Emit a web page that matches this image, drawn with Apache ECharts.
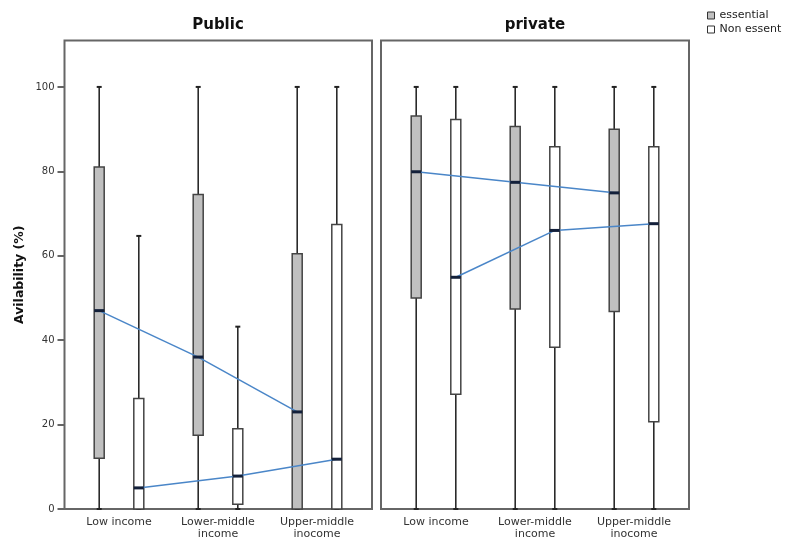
<!DOCTYPE html>
<html>
<head>
<meta charset="utf-8">
<style>
  html, body { margin: 0; padding: 0; background: #fff; }
  #chart { width: 786px; height: 540px; }
</style>
<script src="https://cdn.jsdelivr.net/npm/echarts@6/dist/echarts.min.js"></script>
</head>
<body>
<div id="chart"></div>
<script>
const categories = ['Low income', 'Lower-middle\nincome', 'Upper-middle\ninocome']
const panels = ['Public', 'private']
const groups = ['essential', 'Non essent']
const yTicks = [0, 20, 40, 60, 80, 100]

// [min, Q1, median, Q3, max] for each income group
const publicEssential = [[0, 12, 47, 81, 100], [0, 17.5, 36, 74.5, 100], [0, 0, 23, 60.5, 100]]
const publicNonEssential = [[0, 0, 5, 26.2, 64.7], [0, 1.1, 7.8, 19, 43.2], [0, 0, 11.8, 67.4, 100]]
const privateEssential = [[0, 50, 79.9, 93.1, 100], [0, 47.4, 77.4, 90.6, 100], [0, 46.8, 74.9, 90, 100]]
const privateNonEssential = [[0, 27.2, 54.9, 92.3, 100], [0, 38.3, 66, 85.8, 100], [0, 20.7, 67.6, 85.8, 100]]

const panelData = [
  [publicEssential, publicNonEssential],
  [privateEssential, privateNonEssential]
]

const FONT = 'DejaVu Sans'
const boxFill = ['#c0c0c0', '#ffffff']
const shifts = [-0.2, 0.2]

function boxRenderer(shift) {
  return function (params, api) {
    const cat = api.value(0)
    const dx = api.size([1, 0])[0] * shift
    const pMin = api.coord([cat, api.value(1)])
    const pQ1 = api.coord([cat, api.value(2)])
    const pQ3 = api.coord([cat, api.value(4)])
    const pMax = api.coord([cat, api.value(5)])
    const x = pMax[0] + dx
    const whisker = { stroke: '#2a2a2a', lineWidth: 1.6 }
    const cap = { stroke: '#222', lineWidth: 2 }
    return {
      type: 'group',
      children: [
        { type: 'line', shape: { x1: x, y1: pMax[1], x2: x, y2: pQ3[1] }, style: whisker },
        { type: 'line', shape: { x1: x, y1: pQ1[1], x2: x, y2: pMin[1] }, style: whisker },
        { type: 'line', shape: { x1: x - 2.5, y1: pMax[1], x2: x + 2.5, y2: pMax[1] }, style: cap },
        { type: 'line', shape: { x1: x - 2.5, y1: pMin[1], x2: x + 2.5, y2: pMin[1] }, style: cap },
        {
          type: 'rect',
          shape: { x: x - 5, y: pQ3[1], width: 10, height: pQ1[1] - pQ3[1] },
          style: { fill: api.visual('color'), stroke: '#444', lineWidth: 1.5 }
        }
      ]
    }
  }
}

function trendRenderer(shift) {
  return function (params, api) {
    const cat = api.value(0)
    const dx = api.size([1, 0])[0] * shift
    const p = api.coord([cat, api.value(1)])
    const children = [{
      type: 'rect',
      z2: 2,
      shape: { x: p[0] + dx - 5, y: p[1] - 1.5, width: 10, height: 3 },
      style: { fill: '#13203a' }
    }]
    if (cat < categories.length - 1) {
      const q = api.coord([cat + 1, api.value(2)])
      children.push({
        type: 'line',
        z2: 1,
        shape: { x1: p[0] + dx, y1: p[1], x2: q[0] + dx, y2: q[1] },
        style: { stroke: '#4a86c8', lineWidth: 1.5 }
      })
    }
    return { type: 'group', children }
  }
}

const series = []
panelData.forEach((pair, p) => {
  pair.forEach((rows, g) => {
    series.push({
      type: 'custom',
      name: groups[g],
      xAxisIndex: p,
      yAxisIndex: p,
      z: 2,
      itemStyle: { color: boxFill[g] },
      renderItem: boxRenderer(shifts[g]),
      data: rows.map((r, i) => [i].concat(r))
    })
  })
  pair.forEach((rows, g) => {
    series.push({
      type: 'custom',
      xAxisIndex: p,
      yAxisIndex: p,
      z: 3,
      renderItem: trendRenderer(shifts[g]),
      data: rows.map((r, i) => [i, r[2], i < rows.length - 1 ? rows[i + 1][2] : r[2]])
    })
  })
})

const chart = echarts.init(document.getElementById('chart'))
chart.setOption({
  animation: false,
  backgroundColor: '#fff',
  title: [
    { text: panels[0], left: 218, top: 18, textAlign: 'center', padding: 0,
      textStyle: { fontFamily: FONT, fontSize: 15, fontWeight: 'bold', color: '#111' } },
    { text: panels[1], left: 535, top: 18, textAlign: 'center', padding: 0,
      textStyle: { fontFamily: FONT, fontSize: 15, fontWeight: 'bold', color: '#111' } }
  ],
  legend: {
    orient: 'vertical',
    left: 707,
    top: 10,
    padding: 0,
    itemWidth: 7,
    itemHeight: 7,
    itemGap: 3,
    selectedMode: false,
    textStyle: { fontFamily: FONT, fontSize: 11, color: '#222', lineHeight: 11 },
    data: [
      { name: groups[0], icon: 'rect', itemStyle: { color: boxFill[0], borderColor: '#333', borderWidth: 1 } },
      { name: groups[1], icon: 'rect', itemStyle: { color: boxFill[1], borderColor: '#333', borderWidth: 1 } }
    ]
  },
  grid: [
    { left: 69.5, top: 40.5, width: 297, height: 468.5 },
    { left: 386.5, top: 40.5, width: 297, height: 468.5 }
  ],
  graphic: [
    { type: 'rect', shape: { x: 64.5, y: 40.5, width: 307.5, height: 468.5 },
      style: { fill: 'none', stroke: '#666', lineWidth: 2 }, z: 1 },
    { type: 'rect', shape: { x: 381, y: 40.5, width: 308, height: 468.5 },
      style: { fill: 'none', stroke: '#666', lineWidth: 2 }, z: 1 }
  ],
  xAxis: [0, 1].map(i => ({
    type: 'category',
    gridIndex: i,
    data: categories,
    boundaryGap: true,
    axisLine: { show: false },
    axisTick: { alignWithLabel: true, length: 5, lineStyle: { color: '#333', width: 1.5 } },
    axisLabel: { interval: 0, margin: 7, fontFamily: FONT, fontSize: 11, lineHeight: 12, color: '#333' },
    splitLine: { show: false }
  })),
  yAxis: [0, 1].map(i => ({
    type: 'value',
    gridIndex: i,
    show: i === 0,
    min: 0,
    max: 111,
    offset: 5,
    name: i === 0 ? 'Avilability (%)' : '',
    nameLocation: 'middle',
    nameGap: 38,
    nameTextStyle: { fontFamily: FONT, fontSize: 12.5, fontWeight: 'bold', color: '#111' },
    axisLine: { show: false },
    axisTick: { show: true, length: 7, customValues: yTicks, lineStyle: { color: '#333', width: 1.5 } },
    axisLabel: { customValues: yTicks, margin: 10, fontFamily: FONT, fontSize: 10, color: '#333' },
    splitLine: { show: false }
  })),
  series
})
</script>
</body>
</html>
